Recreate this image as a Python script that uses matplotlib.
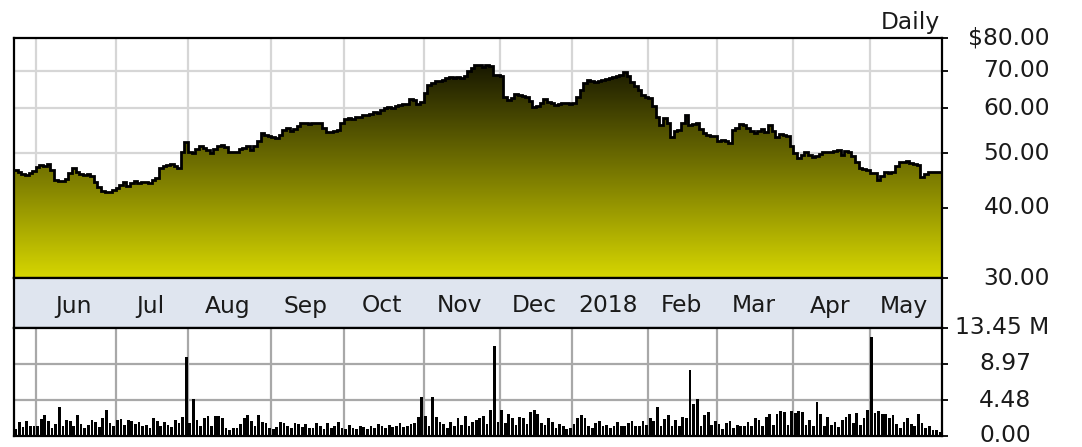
import numpy as np
import matplotlib
matplotlib.use("Agg")
import matplotlib.pyplot as plt
from matplotlib.colors import LinearSegmentedColormap
from matplotlib.ticker import NullLocator
import matplotlib.transforms as mtransforms

# daily closes (trading days), late May 2017 .. May 2018
price_may17 = [46.6, 46.2, 45.9, 45.7, 46.0, 46.4]
price_jun = [47.2, 47.6, 47.4, 47.8, 46.6, 44.8, 44.6, 44.6, 44.9, 46.1, 47.0,
             46.2, 45.8, 45.7, 45.9, 45.6, 44.4, 43.6, 42.8, 42.6, 42.6, 43.0]
price_jul = [43.4, 43.9, 44.4, 43.7, 44.2, 44.6, 44.3, 44.5, 44.4, 44.3,
             44.8, 45.1, 47.0, 47.4, 47.6, 47.8, 47.4, 47.0, 50.2, 52.4]
price_aug = [50.2, 50.0, 50.8, 51.5, 51.0, 50.6, 50.0, 50.8, 51.5, 51.6, 51.2, 50.2,
             50.2, 50.3, 50.8, 51.0, 51.5, 50.6, 51.4, 52.6, 54.3, 53.8, 53.6]
price_sep = [53.4, 53.2, 53.8, 54.9, 55.4, 54.8, 55.2, 55.9, 56.5, 56.5,
             56.2, 56.6, 56.5, 56.5, 55.4, 54.5, 54.5, 54.6, 54.9, 56.6]
price_oct = [57.4, 57.7, 57.5, 57.9, 57.9, 58.3, 58.5, 58.6, 59.1, 59.0, 59.6,
             60.0, 60.3, 60.2, 60.5, 60.8, 61.1, 61.2, 62.4, 62.0, 61.1, 61.6]
price_nov = [64.0, 66.0, 66.6, 67.0, 67.2, 67.4, 67.9, 68.2, 67.8, 68.2, 67.9,
             68.6, 69.8, 70.8, 71.6, 71.6, 71.2, 71.6, 71.4, 68.8, 68.8]
price_dec = [68.6, 62.9, 62.1, 62.6, 63.6, 63.4, 63.0, 62.9, 61.8, 60.3,
             60.5, 61.3, 62.4, 61.6, 61.4, 60.8, 61.0, 61.3, 61.3, 61.2]
price_jan = [61.3, 62.8, 64.7, 66.6, 67.4, 67.0, 66.8, 67.1, 67.4, 67.7, 67.8,
             68.2, 68.5, 68.8, 69.6, 68.4, 66.8, 65.8, 64.6, 63.4, 62.9]
price_feb = [62.6, 60.5, 57.9, 56.1, 57.7, 56.5, 53.4, 54.6, 54.9, 56.6,
             58.4, 56.1, 56.4, 56.5, 55.2, 54.3, 53.9, 53.6, 53.6]
price_mar = [52.5, 52.7, 52.6, 52.1, 54.9, 55.4, 56.3, 56.1, 55.4, 54.8, 54.3,
             54.7, 55.1, 54.5, 56.1, 54.6, 53.4, 54.0, 53.9, 53.6, 51.5]
price_apr = [50.0, 49.0, 49.5, 50.2, 49.6, 49.2, 49.4, 49.8, 50.2, 50.2, 50.3,
             50.4, 50.6, 49.6, 50.4, 50.2, 49.3, 48.2, 47.0, 46.8, 46.6]
price_may18 = [46.1, 46.0, 44.8, 45.6, 46.3, 46.1, 46.3, 47.4, 48.2, 48.1,
               48.4, 48.0, 47.8, 47.6, 45.3, 45.8, 46.3, 46.3, 46.3, 46.3]

# daily volume, millions of shares
vol_may17 = [0.9, 1.8, 1.1, 1.9, 1.2, 1.2]
vol_jun = [1.3, 2.1, 2.6, 1.9, 1.0, 1.5, 3.6, 1.2, 2.0, 1.9, 1.3,
           2.6, 1.5, 1.0, 1.4, 2.0, 1.7, 1.1, 2.2, 3.3, 1.6, 1.2]
vol_jul = [2.0, 2.1, 1.4, 2.0, 1.9, 1.5, 1.8, 1.2, 1.4, 1.0,
           2.2, 1.9, 1.2, 1.8, 1.4, 1.1, 2.0, 1.6, 2.4, 9.9]
vol_aug = [1.6, 4.6, 2.0, 1.3, 2.3, 2.5, 1.2, 2.5, 2.5, 2.3, 1.0, 0.8,
           1.0, 1.0, 1.5, 2.2, 2.6, 1.9, 1.2, 2.6, 1.8, 1.6, 1.0]
vol_sep = [0.9, 1.1, 1.7, 1.6, 1.3, 1.0, 1.6, 1.5, 1.1, 1.5,
           1.0, 1.0, 1.6, 1.2, 0.9, 1.6, 1.0, 1.3, 1.7, 1.0]
vol_oct = [0.9, 1.4, 1.0, 0.9, 1.2, 1.1, 0.9, 1.3, 1.0, 1.5, 1.2,
           1.0, 1.4, 1.1, 1.2, 1.6, 1.1, 1.3, 1.5, 1.6, 2.4, 4.9]
vol_nov = [2.5, 1.2, 4.9, 2.4, 1.7, 1.5, 1.0, 1.8, 1.2, 2.2, 1.4,
           2.5, 1.2, 1.8, 2.0, 2.3, 2.5, 1.5, 3.3, 11.2, 1.8]
vol_dec = [3.3, 1.6, 2.7, 2.2, 1.4, 2.4, 2.3, 1.5, 3.0, 3.2,
           2.8, 1.6, 1.4, 2.2, 1.8, 1.0, 1.5, 1.3, 0.9, 1.0]
vol_jan = [1.5, 2.3, 2.6, 2.2, 1.2, 1.0, 1.6, 1.9, 1.2, 1.4, 1.0,
           1.2, 1.8, 1.3, 1.2, 1.6, 1.9, 1.3, 1.3, 1.9, 1.4]
vol_feb = [2.2, 1.9, 3.6, 1.2, 2.1, 2.6, 1.3, 2.0, 1.3, 2.4,
           2.2, 8.2, 4.0, 4.6, 1.2, 2.6, 3.0, 1.4, 1.9]
vol_mar = [1.5, 0.9, 1.6, 1.9, 1.0, 1.4, 1.2, 1.2, 1.7, 1.2, 2.2,
           2.0, 1.3, 2.4, 2.8, 1.4, 2.8, 3.1, 3.0, 1.4, 3.1]
vol_apr = [2.9, 3.1, 3.0, 1.4, 2.0, 1.2, 4.2, 2.8, 1.2, 2.4, 1.4,
           1.8, 1.1, 2.0, 2.4, 2.8, 1.6, 2.9, 1.4, 2.3, 3.3]
vol_may18 = [12.3, 2.9, 3.1, 2.7, 2.8, 2.2, 2.6, 1.5, 1.0, 1.8,
             2.2, 1.5, 1.2, 2.8, 1.6, 1.0, 1.2, 0.7, 0.8, 0.5]

months = ["Jun", "Jul", "Aug", "Sep", "Oct", "Nov", "Dec", "2018", "Feb", "Mar", "Apr", "May"]
month_start = [6, 28, 48, 71, 91, 113, 134, 154, 175, 194, 215, 236]
price_ticks = [30, 40, 50, 60, 70, 80]
price_labels = ["30.00", "40.00", "50.00", "60.00", "70.00", "$80.00"]
vol_ticks = [0, 4.48, 8.97, 13.45]
vol_labels = ["0.00", "4.48", "8.97", "13.45 M"]

price = np.array(price_may17 + price_jun + price_jul + price_aug + price_sep + price_oct
                 + price_nov + price_dec + price_jan + price_feb + price_mar + price_apr + price_may18)
volume = np.array(vol_may17 + vol_jun + vol_jul + vol_aug + vol_sep + vol_oct
                  + vol_nov + vol_dec + vol_jan + vol_feb + vol_mar + vol_apr + vol_may18)
n = len(price)
x = np.arange(n)
edges = np.arange(n + 1) - 0.5

plt.rcParams['font.family'] = ['DejaVu Sans']
FS = 16.8
TXT = '#1a1a1a'

W, H = 1082, 447
fig = plt.figure(figsize=(W / 100, H / 100), dpi=100)
fig.patch.set_facecolor('white')


def box(l, t, r, b):
    return [l / W, 1 - b / H, (r - l) / W, (b - t) / H]


ax = fig.add_axes(box(14, 38, 942, 278))
band = fig.add_axes(box(14, 278, 942, 328))
axv = fig.add_axes(box(14, 328, 942, 436))

# ---- price panel
ax.set_yscale('log')
for m in month_start:
    ax.axvline(m - 0.5, color='#d6d6d6', lw=1.6, zorder=0)
for p in price_ticks[1:-1]:
    ax.axhline(p, color='#d6d6d6', lw=1.6, zorder=0)

area = ax.stairs(price, edges, baseline=30, fill=True, facecolor='none', edgecolor='none', zorder=1)
cmap = LinearSegmentedColormap.from_list('olive', ['#000000', '#d6d600'])
grad = np.linspace(0, 1, 256).reshape(-1, 1)
im = ax.imshow(grad, extent=[0, 1, 0, 1], transform=ax.transAxes, aspect='auto',
               cmap=cmap, origin='upper', zorder=2)
im.set_clip_path(area)
ax.stairs(price, edges, baseline=None, color='black', lw=2.0, zorder=3)

ax.set_xlim(-0.5, n - 0.5)
ax.set_ylim(30, 80)
ax.yaxis.set_minor_locator(NullLocator())
ax.set_yticks(price_ticks)
ax.set_xticks([])
ax.tick_params(axis='y', left=False, right=True, labelleft=False, labelright=False,
               length=4, width=1.3, direction='out', color='black')
ax.set_facecolor('white')
for s in ax.spines.values():
    s.set_linewidth(1.6)
    s.set_color('black')

tr = mtransforms.blended_transform_factory(fig.transFigure, ax.transData)
for p, lab in zip(price_ticks, price_labels):
    ax.text(1050 / W, p, lab, transform=tr, ha='right', va='center', fontsize=FS, color=TXT)

fig.text(940 / W, 1 - 29 / H, "Daily", ha='right', va='baseline', fontsize=FS, color=TXT)

# ---- month band
band.set_facecolor('#dfe5ef')
band.set_xlim(-0.5, n - 0.5)
band.set_ylim(0, 1)
band.set_xticks([])
band.set_yticks([])
for s in band.spines.values():
    s.set_linewidth(1.6)
    s.set_color('black')
bounds = month_start + [n]
for i, lab in enumerate(months):
    cx = (bounds[i] + bounds[i + 1]) / 2 - 1.0
    band.text(cx, 0.44, lab, ha='center', va='center', fontsize=FS, color=TXT)

# ---- volume panel
for m in month_start:
    axv.axvline(m - 0.5, color='#a8a8a8', lw=1.6, zorder=0)
for v in vol_ticks[1:-1]:
    axv.axhline(v, color='#a8a8a8', lw=1.6, zorder=0)
axv.bar(x, volume, width=0.75, color='black', zorder=2)
axv.set_xlim(-0.5, n - 0.5)
axv.set_ylim(0, 13.45)
axv.set_xticks([])
axv.set_yticks(vol_ticks)
axv.tick_params(axis='y', left=False, right=True, labelleft=False, labelright=False,
                length=4, width=1.3, direction='out', color='black')
for s in axv.spines.values():
    s.set_linewidth(1.6)
    s.set_color('black')

trv = mtransforms.blended_transform_factory(fig.transFigure, axv.transData)
for v, lab in zip(vol_ticks, vol_labels):
    if lab.endswith('M'):
        axv.text(955 / W, v, lab, transform=trv, ha='left', va='center', fontsize=FS, color=TXT)
    else:
        axv.text(1031 / W, v, lab, transform=trv, ha='right', va='center', fontsize=FS, color=TXT)

fig.savefig('out.png', dpi=100)
